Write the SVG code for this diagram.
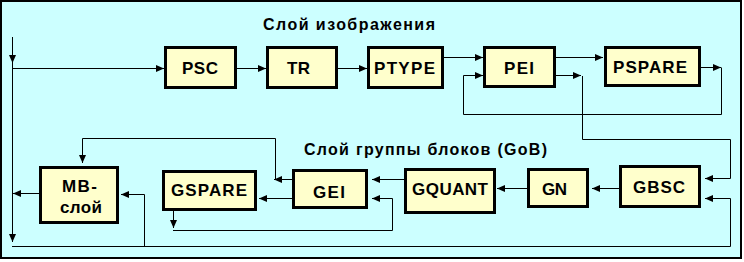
<svg xmlns="http://www.w3.org/2000/svg" width="744" height="262" viewBox="0 0 744 262">
<defs>
<marker id="ah" markerUnits="userSpaceOnUse" markerWidth="8" markerHeight="7" refX="8" refY="3.5" orient="auto">
<path d="M0,0 L8,3.5 L0,7 z" fill="#000"/>
</marker>
<style>
.box{fill:#FFFFCC;stroke:#000;stroke-width:3}
.lbl{font-family:"Liberation Sans",Arial,sans-serif;font-weight:bold;font-size:17px;fill:#000}
.ttl{font-family:"Liberation Sans",Arial,sans-serif;font-weight:bold;font-size:16px;fill:#000}
.c{fill:none;stroke:#000;stroke-width:1}
.a{marker-end:url(#ah)}
</style>
</defs>
<rect x="0" y="0" width="744" height="262" fill="#fff"/>
<rect x="1" y="1" width="740" height="257" fill="#CCFFFF" stroke="#000" stroke-width="2"/>
<g id="titles">
<text class="ttl" x="263" y="30" textLength="172" lengthAdjust="spacing">Слой изображения</text>
<text class="ttl" x="304" y="155" textLength="243" lengthAdjust="spacing">Слой группы блоков (GoB)</text>
</g>
<g id="connectors">
<path class="c a" d="M12.5,37 V63"/>
<path class="c a" d="M12.5,63 V242"/>
<path class="c a" d="M12,68.5 H164"/>
<path class="c a" d="M237,68.5 H266"/>
<path class="c a" d="M338,68.5 H367"/>
<path class="c a" d="M444,57.5 H483"/>
<path class="c a" d="M556,57.5 H603"/>
<path class="c a" d="M556,75.5 H581"/>
<path class="c a" d="M582.5,76 V139.5 H730.5 V178.5 H705"/>
<path class="c a" d="M701,67.5 H721"/>
<path class="c a" d="M721.5,67.5 V114.5 H463.5 V75.5 H483"/>
<path class="c a" d="M12,246.5 H730.5 V198.5 H705"/>
<path class="c a" d="M144.5,246.5 V194.5 H121"/>
<path class="c a" d="M39,193.5 H13"/>
<path class="c a" d="M619,188.5 H592"/>
<path class="c a" d="M527,188.5 H497"/>
<path class="c a" d="M404,179.5 H372"/>
<path class="c a" d="M173.5,211 V228"/>
<path class="c a" d="M173,230.5 H392.5 V198.5 H372"/>
<path class="c a" d="M292,198.5 H259"/>
<path class="c a" d="M292,179.5 H274"/>
<path class="c a" d="M275.5,179.5 V138.5 H82.5 V163"/>
</g>
<g id="psc"><rect class="box" x="165.5" y="47.5" width="70" height="40"/><text class="lbl" x="182" y="74" textLength="36" lengthAdjust="spacing">PSC</text></g>
<g id="tr"><rect class="box" x="267.5" y="47.5" width="69" height="40"/><text class="lbl" x="287" y="74" textLength="23" lengthAdjust="spacing">TR</text></g>
<g id="ptype"><rect class="box" x="368.5" y="47.5" width="74" height="40"/><text class="lbl" x="374" y="74" textLength="61" lengthAdjust="spacing">PTYPE</text></g>
<g id="pei"><rect class="box" x="484.5" y="47.5" width="70" height="39"/><text class="lbl" x="504" y="74" textLength="30" lengthAdjust="spacing">PEI</text></g>
<g id="pspare"><rect class="box" x="605.5" y="47.5" width="94" height="38"/><text class="lbl" x="613" y="73" textLength="74" lengthAdjust="spacing">PSPARE</text></g>
<g id="gbsc"><rect class="box" x="620.5" y="166.5" width="79" height="40"/><text class="lbl" x="633" y="193" textLength="52" lengthAdjust="spacing">GBSC</text></g>
<g id="gn"><rect class="box" x="528.5" y="169.5" width="59" height="37"/><text class="lbl" x="542" y="195" textLength="25" lengthAdjust="spacing">GN</text></g>
<g id="gquant"><rect class="box" x="405.5" y="169.5" width="89" height="43"/><text class="lbl" x="412" y="195" textLength="76" lengthAdjust="spacing">GQUANT</text></g>
<g id="gei"><rect class="box" x="293.5" y="170.5" width="73" height="37"/><text class="lbl" x="313" y="198" textLength="32" lengthAdjust="spacing">GEI</text></g>
<g id="gspare"><rect class="box" x="163.5" y="171.5" width="92" height="38"/><text class="lbl" x="171" y="196" textLength="76" lengthAdjust="spacing">GSPARE</text></g>
<g id="mb"><rect class="box" x="40.5" y="167.5" width="77" height="55"/><text class="lbl" x="62" y="192" textLength="35" lengthAdjust="spacing">MB-</text><text class="lbl" x="60" y="213" textLength="42" lengthAdjust="spacing">слой</text></g>
</svg>
